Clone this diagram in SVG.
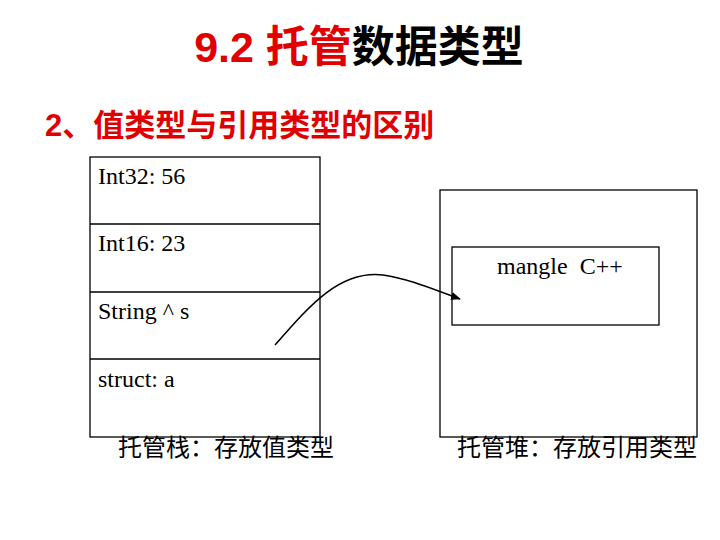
<svg xmlns="http://www.w3.org/2000/svg" width="720" height="540" viewBox="0 0 720 540">
<style>
.box{fill:none;stroke:#000;stroke-width:1.3}
.t{font-family:"Liberation Serif",serif;font-size:24px;fill:#000}
.c{font-family:"Liberation Serif","Noto Sans CJK SC",serif;font-size:24px;fill:#000}
.h{font-family:"Liberation Sans","Noto Sans CJK SC",sans-serif;font-weight:bold}
</style>
<defs><marker id="a" markerWidth="10" markerHeight="8" refX="9" refY="4" orient="auto" markerUnits="userSpaceOnUse"><path d="M0,0L10,4L0,8z" fill="#000"/></marker></defs>
<rect width="720" height="540" fill="#fff"/>
<text x="359" y="62" text-anchor="middle" class="h" font-size="43"><tspan fill="#e00000">9.2 托管</tspan><tspan fill="#000">数据类型</tspan></text>
<text x="45" y="136" class="h" font-size="31" fill="#e00000">2、值类型与引用类型的区别</text>
<g id="stack">
<rect class="box" x="90" y="157" width="230" height="280"/>
<line class="box" x1="90" y1="224" x2="320" y2="224"/>
<line class="box" x1="90" y1="292" x2="320" y2="292"/>
<line class="box" x1="90" y1="359" x2="320" y2="359"/>
<text class="t" x="98" y="184">Int32: 56</text>
<text class="t" x="98" y="251">Int16: 23</text>
<text class="t" x="98" y="319">String ^ s</text>
<text class="t" x="98" y="387">struct: a</text>
<text class="c" x="118" y="456">托管栈：存放值类型</text>
</g>
<g id="heap">
<rect class="box" x="440" y="190" width="257" height="247"/>
<text class="c" x="457" y="456">托管堆：存放引用类型</text>
</g>
<g id="obj">
<rect class="box" x="452" y="247" width="207" height="78"/>
<text class="t" x="497" y="274" xml:space="preserve">mangle  C++</text>
</g>
<g id="connectors">
<path d="M275,345 C310,305 340,270 383,275 C410,279 435,290 460,299" fill="none" stroke="#000" stroke-width="1.6" marker-end="url(#a)"/>
</g>
</svg>
